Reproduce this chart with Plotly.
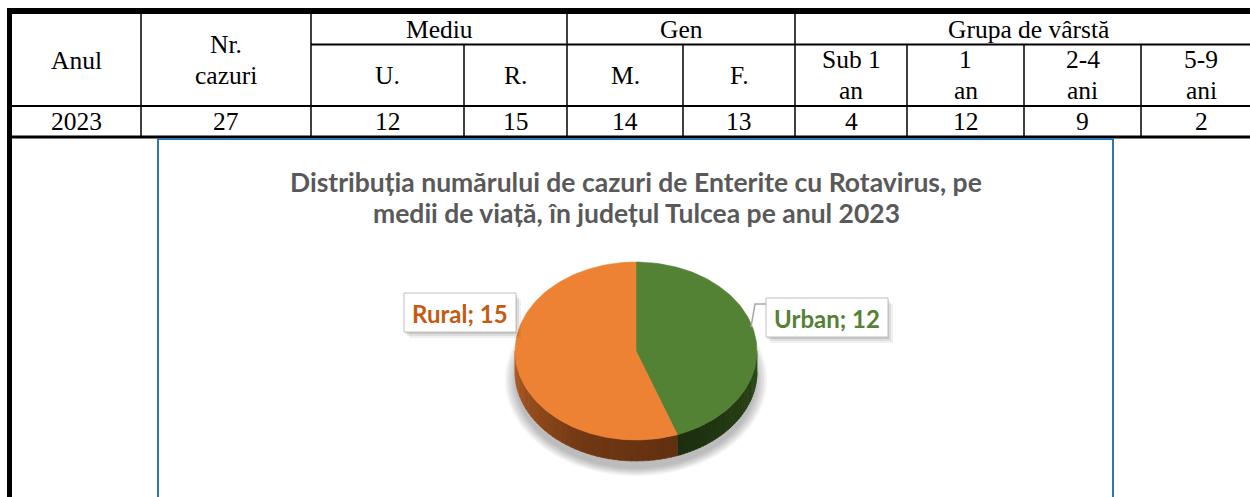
import numpy as np
import plotly.graph_objects as go

# ---------------- data ----------------
year = ["2023"]
total_cases = [27]
group_headers = ["Mediu", "Gen", "Grupa de vârstă"]
first_headers = ["Anul", "Nr.<br>cazuri"]
mediu_labels = ["U.", "R."]
mediu_values = [12, 15]
gen_labels = ["M.", "F."]
gen_values = [14, 13]
age_labels = ["Sub 1<br>an", "1<br>an", "2-4<br>ani", "5-9<br>ani"]
age_values = [4, 12, 9, 2]
pie_labels = ["Urban", "Rural"]
pie_values = [12, 15]
title_lines = ["Distribuția numărului de cazuri de Enterite cu Rotavirus, pe",
               "medii de viață, în județul Tulcea pe anul 2023"]

# ---------------- layout constants (pixels) ----------------
W, H = 1250, 497
col_x = [12, 141, 311, 464, 567, 683, 795, 907, 1024, 1141, 1261]
row_top, row_mid, row_hdr, row_dat = 14, 44.5, 106, 137
SERIF = "Liberation Serif"
SANS = "Lato"
TABLE_SIZE = 25.5

fig = go.Figure()
shapes = []
annos = []


def line(x0, y0, x1, y1, w=1.5, c="black"):
    shapes.append(dict(type="line", xref="x", yref="y", x0=x0, y0=y0, x1=x1, y1=y1,
                       line=dict(color=c, width=w), layer="above"))


def text(x, y, s, size=TABLE_SIZE, color="black", family=SERIF, weight=400):
    lines = s.split("<br>")
    n = len(lines)
    gap = 31
    for i, ln in enumerate(lines):
        yy = y + (i - (n - 1) / 2) * gap
        annos.append(dict(x=x, y=yy, xref="x", yref="y", text=ln, showarrow=False,
                          xanchor="center", yanchor="middle",
                          font=dict(family=family, size=size, color=color, weight=weight)))


# ---------------- table ----------------
shapes.append(dict(type="rect", xref="x", yref="y", x0=7, y0=8, x1=W + 5, y1=14,
                   fillcolor="black", line=dict(width=0)))
shapes.append(dict(type="rect", xref="x", yref="y", x0=7, y0=8, x1=12, y1=H + 5,
                   fillcolor="black", line=dict(width=0)))
line(col_x[2], row_mid, W + 5, row_mid, 2)
line(12, row_hdr, W + 5, row_hdr, 2.2)
line(12, row_dat, W + 5, row_dat, 3)
for i, x in enumerate(col_x[1:-1], start=1):
    full = i in (1, 2, 4, 6)
    line(x, row_top if full else row_mid, x, row_dat, 1.5)

cent = [(col_x[i] + col_x[i + 1]) / 2 for i in range(len(col_x) - 1)]
text(cent[0], (row_top + row_hdr) / 2, first_headers[0])
text(cent[1], (row_top + row_hdr) / 2, first_headers[1])
text((col_x[2] + col_x[4]) / 2, (row_top + row_mid) / 2, group_headers[0])
text((col_x[4] + col_x[6]) / 2, (row_top + row_mid) / 2, group_headers[1])
text((col_x[6] + col_x[10]) / 2, (row_top + row_mid) / 2, group_headers[2])
sub_labels = mediu_labels + gen_labels + age_labels
for i, lab in enumerate(sub_labels):
    text(cent[2 + i], (row_mid + row_hdr) / 2, lab)
vals = year + [str(v) for v in total_cases + mediu_values + gen_values + age_values]
for i, v in enumerate(vals):
    text(cent[i], (row_hdr + row_dat) / 2, v)

# ---------------- chart frame ----------------
shapes.append(dict(type="rect", xref="x", yref="y", x0=158, y0=139, x1=1113, y1=H + 10,
                   line=dict(color="#2E75B6", width=2), fillcolor="rgba(0,0,0,0)"))

text(636, 182, title_lines[0], size=26.5, color="#595959", family=SANS, weight=700)
text(636, 213, title_lines[1], size=26.5, color="#595959", family=SANS, weight=700)

# ---------------- 3D pie ----------------
cx, cy, rx, ry, depth = 636, 351, 121, 89, 21
total = sum(pie_values)
angles = np.concatenate([[0], np.cumsum(pie_values) / total * 360.0])
top_colors = ["#548235", "#EE8234"]
side_stops = [
    [(90, (44, 72, 24)), (160, (28, 46, 15))],
    [(160, (98, 48, 15)), (205, (112, 56, 19)), (270, (178, 92, 36))],
]


def pt(theta_deg, dy=0.0):
    t = np.radians(theta_deg)
    return cx + rx * np.sin(t), cy - ry * np.cos(t) + dy


def interp_color(stops, a):
    angs = [s[0] for s in stops]
    rgb = [np.interp(a, angs, [s[1][k] for s in stops]) for k in range(3)]
    return "rgb(%d,%d,%d)" % tuple(int(round(v)) for v in rgb)


# soft shadow
for k in range(8):
    e = 1 + k * 0.012
    t = np.linspace(0, 360, 120)
    xs = cx + rx * e * np.sin(np.radians(t))
    ys = cy + 16 - ry * e * np.cos(np.radians(t)) + depth * 0.6
    fig.add_trace(go.Scatter(x=xs, y=ys, mode="lines", fill="toself",
                             fillcolor="rgba(0,0,0,0.035)", line=dict(width=0),
                             hoverinfo="skip", showlegend=False))

# sides
for i in range(len(pie_values)):
    a0, a1 = max(angles[i], 90), min(angles[i + 1], 270)
    if a1 <= a0:
        continue
    n = 40
    edges = np.linspace(a0, a1, n + 1)
    for j in range(n):
        s0, s1 = edges[j], edges[j + 1] + (0.4 if j < n - 1 else 0)
        tt = np.linspace(s0, s1, 4)
        top = [pt(a) for a in tt]
        bot = [pt(a, depth) for a in tt[::-1]]
        poly = top + bot
        col = interp_color(side_stops[i], (s0 + s1) / 2)
        fig.add_trace(go.Scatter(x=[p[0] for p in poly], y=[p[1] for p in poly],
                                 mode="lines", fill="toself", fillcolor=col,
                                 line=dict(width=0.6, color=col),
                                 hoverinfo="skip", showlegend=False))

# top faces
for i in range(len(pie_values)):
    tt = np.linspace(angles[i], angles[i + 1], 120)
    xs = [cx] + [pt(a)[0] for a in tt] + [cx]
    ys = [cy] + [pt(a)[1] for a in tt] + [cy]
    fig.add_trace(go.Scatter(x=xs, y=ys, mode="lines", fill="toself",
                             fillcolor=top_colors[i], line=dict(width=0.5, color=top_colors[i]),
                             name=pie_labels[i], hoverinfo="name", showlegend=False))

# data labels
label_boxes = [(766, 298, 888, 337), (404, 293, 516, 332)]
label_colors = ["#548235", "#C55A11"]
for i, (x0, y0, x1, y1) in enumerate(label_boxes):
    for k, a in enumerate([0.06, 0.08, 0.10]):
        off = 6 - 2 * k
        shapes.append(dict(type="rect", xref="x", yref="y", x0=x0 + off - 1, y0=y0 + off,
                           x1=x1 + off - 1, y1=y1 + off, fillcolor="rgba(0,0,0,%.2f)" % a,
                           line=dict(width=0), layer="above"))
    shapes.append(dict(type="rect", xref="x", yref="y", x0=x0, y0=y0, x1=x1, y1=y1,
                       fillcolor="white", line=dict(color="#BFBFBF", width=1), layer="above"))
    text((x0 + x1) / 2, (y0 + y1) / 2 + 1, f"{pie_labels[i]}; {pie_values[i]}",
         size=24, color=label_colors[i], family=SANS, weight=700)

# leader line for Urban
shapes.append(dict(type="path", xref="x", yref="y", path="M 766 304 L 755 304 L 751 327",
                   line=dict(color="#A6A6A6", width=1.5), layer="above"))

fig.update_layout(
    width=W, height=H, margin=dict(l=0, r=0, t=0, b=0),
    paper_bgcolor="white", plot_bgcolor="white",
    xaxis=dict(range=[0, W], visible=False, fixedrange=True),
    yaxis=dict(range=[H, 0], visible=False, fixedrange=True),
    shapes=shapes, annotations=annos, showlegend=False,
)

fig.write_html("out.html", post_script="document.body.style.margin='0';",
               config={"displayModeBar": False})
